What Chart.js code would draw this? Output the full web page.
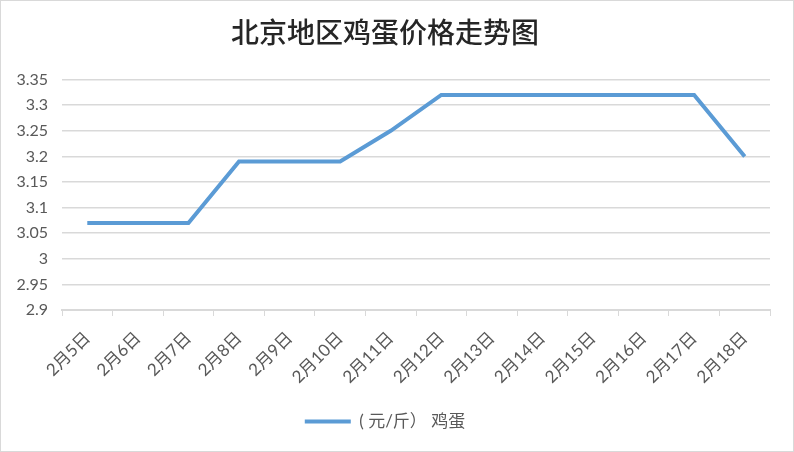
<!DOCTYPE html>
<html>
<head>
<meta charset="utf-8">
<script src="https://cdn.jsdelivr.net/npm/chart.js@4"></script>
<style>
  body { margin: 0; background: #fff; }
  #wrap { position: relative; width: 794px; height: 452px; }
  #frame { position: absolute; left: 0; top: 0; width: 792px; height: 450px; border: 1px solid #d9d9d9; pointer-events: none; }
</style>
</head>
<body>
<div id="wrap">
  <canvas id="eggChart" width="794" height="452"></canvas>
  <div id="frame"></div>
</div>
<script>
// data
const days = ["2月5日", "2月6日", "2月7日", "2月8日", "2月9日", "2月10日", "2月11日",
              "2月12日", "2月13日", "2月14日", "2月15日", "2月16日", "2月17日", "2月18日"];
const eggPrices = [3.07, 3.07, 3.07, 3.19, 3.19, 3.19, 3.25, 3.32, 3.32, 3.32, 3.32, 3.32, 3.32, 3.20];
const seriesName = "( 元/斤） 鸡蛋";

const fontFamily = "Lato, 'Noto Sans CJK SC', sans-serif";
const lineColor = "#5B9BD5";

const ctx = document.getElementById("eggChart").getContext("2d");

new Chart(ctx, {
  type: "line",
  data: {
    labels: days,
    datasets: [
      {
        label: seriesName,
        data: eggPrices,
        borderColor: lineColor,
        backgroundColor: lineColor,
        borderWidth: 4,
        pointRadius: 0,
        tension: 0,
        pointStyle: "line"
      }
    ]
  },
  options: {
    responsive: false,
    animation: false,
    layout: {
      padding: { left: 0, right: 24, top: 0, bottom: 12 }
    },
    plugins: {
      title: {
        display: true,
        text: "北京地区鸡蛋价格走势图",
        color: "#262626",
        font: { family: "'Noto Sans CJK SC', serif", size: 28, weight: "500" },
        padding: { top: 16, bottom: 30 }
      },
      legend: {
        position: "bottom",
        labels: {
          color: "#595959",
          font: { family: fontFamily, size: 17 },
          usePointStyle: true,
          pointStyleWidth: 46,
          padding: 18
        }
      },
      tooltip: { enabled: false }
    },
    scales: {
      x: {
        offset: true,
        grid: {
          display: true,
          drawOnChartArea: false,
          offset: true,
          color: "#d9d9d9",
          tickLength: 6
        },
        border: { color: "#d9d9d9", width: 2 },
        ticks: {
          color: "#595959",
          font: { family: fontFamily, size: 17 },
          minRotation: 45,
          maxRotation: 45,
          autoSkip: false,
          padding: 12
        },
        afterFit: scale => { scale.height = 85; }
      },
      y: {
        min: 2.9,
        max: 3.35,
        grid: { color: "#d9d9d9", lineWidth: 1.5, drawTicks: false },
        border: { display: false },
        ticks: {
          stepSize: 0.05,
          color: "#595959",
          font: { family: fontFamily, size: 16 },
          padding: 14,
          callback: v => String(Math.round(v * 100) / 100)
        },
        afterFit: scale => { scale.width = 62; }
      }
    }
  }
});
</script>
</body>
</html>
